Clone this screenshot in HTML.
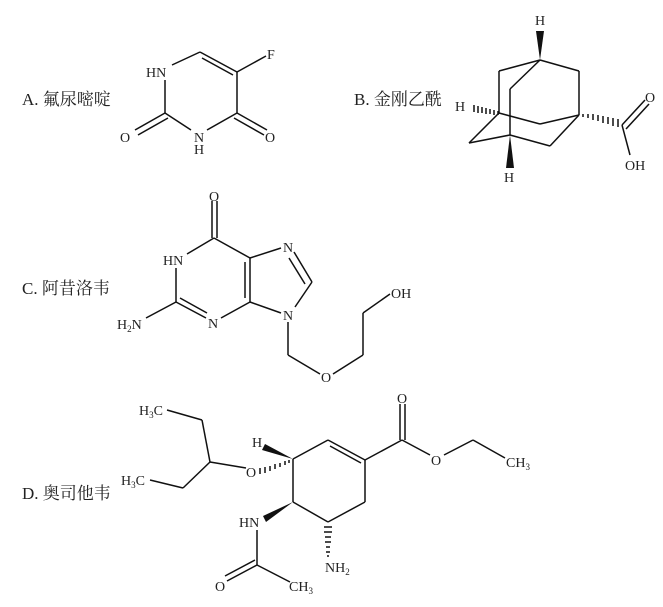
<!DOCTYPE html>
<html><head><meta charset="utf-8"><style>
html,body{margin:0;padding:0;background:#fff;}
svg{display:block;}
text{font-family:"Liberation Serif","Noto Serif CJK SC",serif;fill:#222;}
.a{font-size:14px;}
.l{font-size:17px;}
line,polyline,path{stroke:#111;stroke-width:1.5;fill:none;}
.w{fill:#111;stroke:none;}
.h{stroke-width:1;}
</style></head><body>
<svg width="663" height="607" viewBox="0 0 663 607">
<!-- Labels -->
<text class="l" x="22" y="105">A. 氟尿嘧啶</text>
<text class="l" x="354" y="105">B. 金刚乙酰</text>
<text class="l" x="22" y="294">C. 阿昔洛韦</text>
<text class="l" x="22" y="499">D. 奥司他韦</text>

<!-- A: 5-FU -->
<line x1="200" y1="52" x2="237" y2="72"/>
<line x1="202" y1="58" x2="233" y2="75"/>
<line x1="237" y1="72" x2="266" y2="56"/>
<line x1="237" y1="72" x2="237" y2="113"/>
<line x1="237" y1="113" x2="267" y2="130"/>
<line x1="234" y1="118" x2="264" y2="135"/>
<line x1="237" y1="113" x2="207" y2="130"/>
<line x1="191" y1="130" x2="165" y2="113"/>
<line x1="165" y1="113" x2="135" y2="130"/>
<line x1="168" y1="118" x2="138" y2="135"/>
<line x1="165" y1="113" x2="165" y2="80"/>
<line x1="172" y1="65" x2="200" y2="52"/>
<text class="a" x="267" y="59">F</text>
<text class="a" x="146" y="77">HN</text>
<text class="a" x="265" y="142">O</text>
<text class="a" x="120" y="142">O</text>
<text class="a" x="194" y="142">N</text>
<text class="a" x="194" y="154">H</text>

<!-- B: adamantane -->
<polygon class="w" points="540,60 536,31 544,31"/>
<text class="a" x="535" y="25">H</text>
<line x1="540" y1="60" x2="499" y2="71"/>
<line x1="540" y1="60" x2="579" y2="71"/>
<line x1="540" y1="60" x2="510" y2="89"/>
<line x1="510" y1="89" x2="510" y2="135"/>
<line x1="499" y1="71" x2="499" y2="113"/>
<line x1="579" y1="71" x2="579" y2="115"/>
<line x1="499" y1="113" x2="540" y2="124"/>
<line x1="540" y1="124" x2="579" y2="115"/>
<line x1="499" y1="113" x2="469" y2="143"/>
<line x1="469" y1="143" x2="510" y2="135"/>
<line x1="510" y1="135" x2="550" y2="146"/>
<line x1="550" y1="146" x2="579" y2="115"/>
<polygon class="w" points="510,135 506,168 514,168"/>
<text class="a" x="504" y="182">H</text>
<g class="h">
<line x1="498" y1="111" x2="498" y2="115"/><line x1="494" y1="110" x2="494" y2="115"/><line x1="490" y1="109" x2="490" y2="114"/><line x1="486" y1="108" x2="486" y2="114"/><line x1="482" y1="107" x2="482" y2="113"/><line x1="478" y1="106" x2="478" y2="113"/><line x1="474" y1="105" x2="474" y2="112"/>
<line x1="583" y1="114" x2="583" y2="117"/><line x1="588" y1="114" x2="588" y2="118"/><line x1="593" y1="114" x2="593" y2="120"/><line x1="598" y1="115" x2="598" y2="121"/><line x1="603" y1="116" x2="603" y2="123"/><line x1="608" y1="117" x2="608" y2="124"/><line x1="613" y1="118" x2="613" y2="126"/><line x1="618" y1="119" x2="618" y2="127"/>
</g>
<text class="a" x="455" y="111">H</text>
<line x1="622" y1="125" x2="645" y2="100"/>
<line x1="626" y1="129" x2="649" y2="104"/>
<line x1="622" y1="125" x2="630" y2="155"/>
<text class="a" x="645" y="102">O</text>
<text class="a" x="625" y="170">OH</text>

<!-- C: acyclovir -->
<line x1="212" y1="201" x2="212" y2="238"/>
<line x1="217" y1="201" x2="217" y2="238"/>
<text class="a" x="209" y="201">O</text>
<line x1="214" y1="238" x2="187" y2="254"/>
<line x1="214" y1="238" x2="250" y2="258"/>
<line x1="176" y1="268" x2="176" y2="302"/>
<line x1="176" y1="302" x2="146" y2="318"/>
<line x1="176" y1="302" x2="206" y2="318"/>
<line x1="180" y1="298" x2="207" y2="313"/>
<line x1="221" y1="318" x2="250" y2="302"/>
<line x1="250" y1="302" x2="250" y2="258"/>
<line x1="245" y1="298" x2="245" y2="262"/>
<line x1="250" y1="258" x2="281" y2="248"/>
<line x1="294" y1="252" x2="312" y2="282"/>
<line x1="289" y1="258" x2="305" y2="284"/>
<line x1="312" y1="282" x2="295" y2="307"/>
<line x1="250" y1="302" x2="281" y2="313"/>
<line x1="288" y1="322" x2="288" y2="355"/>
<line x1="288" y1="355" x2="320" y2="374"/>
<line x1="333" y1="374" x2="363" y2="355"/>
<line x1="363" y1="355" x2="363" y2="313"/>
<line x1="363" y1="313" x2="390" y2="294"/>
<text class="a" x="163" y="265">HN</text>
<text class="a" x="117" y="329">H<tspan font-size="9" dy="3">2</tspan><tspan dy="-3">N</tspan></text>
<text class="a" x="208" y="328">N</text>
<text class="a" x="283" y="252">N</text>
<text class="a" x="283" y="320">N</text>
<text class="a" x="321" y="382">O</text>
<text class="a" x="391" y="298">OH</text>

<!-- D: oseltamivir -->
<text class="a" x="139" y="415">H<tspan font-size="9" dy="3">3</tspan><tspan dy="-3">C</tspan></text>
<line x1="167" y1="410" x2="202" y2="420"/>
<line x1="202" y1="420" x2="210" y2="462"/>
<text class="a" x="121" y="485">H<tspan font-size="9" dy="3">3</tspan><tspan dy="-3">C</tspan></text>
<line x1="150" y1="480" x2="183" y2="488"/>
<line x1="183" y1="488" x2="210" y2="462"/>
<line x1="210" y1="462" x2="246" y2="468"/>
<text class="a" x="246" y="477">O</text>
<g class="h">
<line x1="260" y1="468" x2="260" y2="474"/><line x1="265" y1="467" x2="265" y2="473"/><line x1="270" y1="466" x2="270" y2="471"/><line x1="275" y1="464" x2="275" y2="469"/><line x1="280" y1="463" x2="280" y2="467"/><line x1="285" y1="461" x2="285" y2="465"/><line x1="289" y1="460" x2="289" y2="463"/>
<line x1="324" y1="527" x2="332" y2="527"/><line x1="324" y1="532" x2="332" y2="532"/><line x1="325" y1="537" x2="331" y2="537"/><line x1="325" y1="542" x2="331" y2="542"/><line x1="326" y1="547" x2="330" y2="547"/><line x1="326" y1="552" x2="330" y2="552"/><line x1="327" y1="556" x2="329" y2="556"/>
</g>
<polygon class="w" points="293,459 265,444 262,450"/>
<text class="a" x="252" y="447">H</text>
<line x1="293" y1="459" x2="328" y2="440"/>
<line x1="328" y1="440" x2="365" y2="460"/>
<line x1="330" y1="446" x2="361" y2="463"/>
<line x1="365" y1="460" x2="365" y2="502"/>
<line x1="365" y1="502" x2="328" y2="522"/>
<line x1="328" y1="522" x2="293" y2="502"/>
<line x1="293" y1="502" x2="293" y2="459"/>
<line x1="365" y1="460" x2="402" y2="440"/>
<line x1="400" y1="440" x2="400" y2="404"/>
<line x1="405" y1="440" x2="405" y2="404"/>
<text class="a" x="397" y="403">O</text>
<line x1="402" y1="440" x2="430" y2="455"/>
<text class="a" x="431" y="465">O</text>
<line x1="444" y1="455" x2="473" y2="440"/>
<line x1="473" y1="440" x2="505" y2="458"/>
<text class="a" x="506" y="467">CH<tspan font-size="9" dy="3">3</tspan></text>
<polygon class="w" points="293,502 263,516 266,522"/>
<text class="a" x="239" y="527">HN</text>
<line x1="257" y1="530" x2="257" y2="565"/>
<line x1="257" y1="565" x2="227" y2="581"/>
<line x1="255" y1="560" x2="225" y2="576"/>
<line x1="257" y1="565" x2="290" y2="582"/>
<text class="a" x="215" y="591">O</text>
<text class="a" x="289" y="591">CH<tspan font-size="9" dy="3">3</tspan></text>
<text class="a" x="325" y="572">NH<tspan font-size="9" dy="3">2</tspan></text>
</svg>
</body></html>
